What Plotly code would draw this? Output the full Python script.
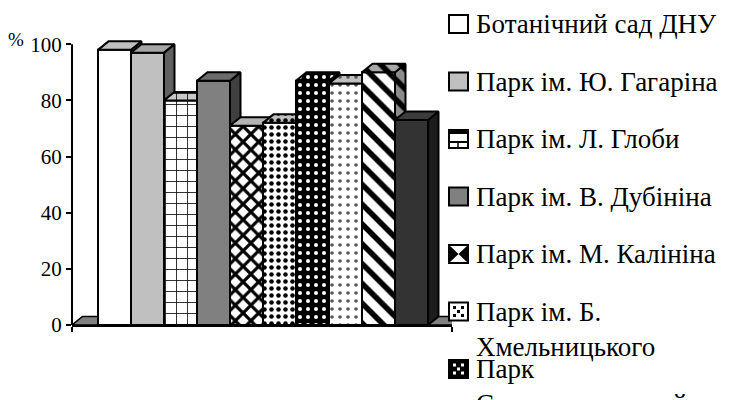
import plotly.graph_objects as go

# Share of healthy trees by park, %
parks = [
    "Ботанічний сад ДНУ",
    "Парк ім. Ю. Гагаріна",
    "Парк ім. Л. Глоби",
    "Парк ім. В. Дубініна",
    "Парк ім. М. Калініна",
    "Парк ім. Б.<br>Хмельницького",
    "Парк<br>Севастопольський",
]
values = [98, 97, 80, 87, 71, 72, 87, 86, 90, 73]
y_ticks = [0, 20, 40, 60, 80, 100]

SERIF = "Liberation Serif"

# Front-face styles: (bgcolor, pattern shape, fgcolor, size, solidity)
front_style = [
    ("#ffffff", "", None, None, None),
    ("#c0c0c0", "", None, None, None),
    ("#ffffff", "+", "#000000", 11, 0.14),
    ("#808080", "", None, None, None),
    ("#ffffff", "x", "#000000", 11, 0.5),
    ("#ffffff", ".", "#000000", 7, 0.33),
    ("#000000", ".", "#ffffff", 8, 0.2),
    ("#ffffff", ".", "#555555", 8, 0.16),
    ("#ffffff", "\\", "#000000", 14, 0.4),
    ("#333333", "", None, None, None),
]
top_style = [
    ("#c0c0c0", "", None),
    ("#a6a6a6", "", None),
    ("#c8c8c8", "+", "#000000"),
    ("#6b6b6b", "", None),
    ("#b4b4b4", "", None),
    ("#c0c0c0", ".", "#000000"),
    ("#000000", ".", "#ffffff"),
    ("#c0c0c0", ".", "#555555"),
    ("#a8a8a8", "\\", "#000000"),
    ("#3c3c3c", "", None),
]
side_color = ["#7a7a7a", "#606060", "#8a8a8a", "#404040", "#5a5a5a",
              "#707070", "#000000", "#7a7a7a", "#8c8c8c", "#1c1c1c"]

# Plot area geometry (pixels)
L, R, T, B = 72, 452, 33, 325
W_PX, H_PX = 742, 400
UNIT_PX = 33.0
x_lo = -0.5 - 26 / UNIT_PX
x_hi = x_lo + (R - L) / UNIT_PX
y_rng = [0, 104]
y_px = (B - T) / (y_rng[1] - y_rng[0])
dx = 10.5 / UNIT_PX          # depth offset along x (axis units)
dz = 8.5 / y_px              # depth offset along y (axis units)


def pattern(shape, fg, bg, size=None, solidity=None):
    if not shape:
        return dict(shape="", bgcolor=bg)
    p = dict(shape=shape, fgcolor=fg, bgcolor=bg, fillmode="replace")
    if size:
        p["size"] = size
    if solidity:
        p["solidity"] = solidity
    return p


fig = go.Figure()

# floor slab under the columns
fig.add_trace(go.Scatter(
    x=[x_lo, x_lo + dx, x_hi + dx, x_hi, x_lo],
    y=[0, dz, dz, 0, 0],
    fill="toself", fillcolor="#808080", mode="lines",
    line=dict(color="#000000", width=1.5),
    hoverinfo="skip", showlegend=False, xaxis="x", yaxis="y",
))

# each column gets its own overlaid axes pair so faces stack left to right
layout_axes = {}
for i, v in enumerate(values):
    xa, ya = f"x{i + 2}", f"y{i + 2}"
    bg, shp, fg, sz, sol = front_style[i]
    fig.add_trace(go.Bar(
        x=[i], y=[v], width=1,
        name=parks[i].replace("<br>", " ") if i < len(parks) else None,
        marker=dict(color=bg, pattern=pattern(shp, fg, bg, sz, sol),
                    line=dict(color="#000000", width=2)),
        hoverinfo="skip", showlegend=False, xaxis=xa, yaxis=ya,
    ))
    xl, xr = i - 0.5, i + 0.5
    # right side face
    fig.add_trace(go.Scatter(
        x=[xr, xr, xr + dx, xr + dx, xr],
        y=[0, v, v + dz, dz, 0],
        fill="toself", fillcolor=side_color[i], mode="lines",
        fillpattern=pattern(shp, "#000000", side_color[i], sz, sol)
        if shp in ("\\",) else None,
        line=dict(color="#000000", width=2),
        hoverinfo="skip", showlegend=False, xaxis=xa, yaxis=ya,
    ))
    # top face
    tbg, tshp, tfg = top_style[i]
    fig.add_trace(go.Scatter(
        x=[xl, xr, xr + dx, xl + dx, xl],
        y=[v, v, v + dz, v + dz, v],
        fill="toself", fillcolor=tbg, mode="lines",
        fillpattern=pattern(tshp, tfg, tbg, sz, sol) if tshp else None,
        line=dict(color="#000000", width=2),
        hoverinfo="skip", showlegend=False, xaxis=xa, yaxis=ya,
    ))
    layout_axes[f"xaxis{i + 2}"] = dict(overlaying="x", range=[x_lo, x_hi],
                                        visible=False, fixedrange=True)
    layout_axes[f"yaxis{i + 2}"] = dict(overlaying="y", range=y_rng,
                                        visible=False, fixedrange=True)


def px_x(px):
    return (px - L) / (R - L)


def px_y(py):
    return (B - py) / (B - T)


shapes = [
    # value axis line from 0 to 100
    dict(type="line", xref="paper", yref="y", x0=0, x1=0,
         y0=-1, y1=y_ticks[-1], line=dict(color="#000000", width=2)),
]
annotations = [
    dict(text="%", xref="paper", yref="paper", x=px_x(16), y=px_y(40),
         xanchor="center", yanchor="middle", showarrow=False,
         font=dict(family=SERIF, size=19, color="#000000")),
]

# legend (swatches + labels)
leg_cy = [24, 81.5, 139, 196.5, 254, 311.5, 369]
SW_X0, SW_X1 = 449, 468
for k, cy in enumerate(leg_cy):
    y0, y1 = cy - 9, cy + 9
    base = {0: "#ffffff", 1: "#c0c0c0", 2: "#ffffff", 3: "#808080",
            4: "#ffffff", 5: "#ffffff", 6: "#000000"}[k]
    shapes.append(dict(type="rect", xref="paper", yref="paper",
                       x0=px_x(SW_X0), x1=px_x(SW_X1), y0=px_y(y1), y1=px_y(y0),
                       fillcolor=base, line=dict(color="#000000", width=2)))
    if k == 2:
        shapes.append(dict(type="rect", xref="paper", yref="paper",
                           x0=px_x(SW_X0), x1=px_x(SW_X1), y0=px_y(y0 + 4), y1=px_y(y0),
                           fillcolor="#000000", line=dict(width=0)))
        shapes.append(dict(type="line", xref="paper", yref="paper",
                           x0=px_x(SW_X0), x1=px_x(SW_X1), y0=px_y(cy + 3), y1=px_y(cy + 3),
                           line=dict(color="#000000", width=2)))
        shapes.append(dict(type="line", xref="paper", yref="paper",
                           x0=px_x(458), x1=px_x(458), y0=px_y(y1), y1=px_y(cy + 3),
                           line=dict(color="#000000", width=1.5)))
    if k == 4:
        for sx in (SW_X0, SW_X1):
            tip = 458.5
            shapes.append(dict(
                type="path", xref="paper", yref="paper",
                path=f"M {px_x(sx)},{px_y(y0)} L {px_x(tip)},{px_y(cy)} "
                     f"L {px_x(sx)},{px_y(y1)} Z",
                fillcolor="#000000", line=dict(width=0)))
    if k in (5, 6):
        dot = "#000000" if k == 5 else "#ffffff"
        for ddx, ddy in ((-4, -4), (4, -4), (-4, 4), (4, 4), (0, 0)):
            cx = 458.5 + ddx
            shapes.append(dict(type="rect", xref="paper", yref="paper",
                               x0=px_x(cx - 1.5), x1=px_x(cx + 1.5),
                               y0=px_y(cy + ddy + 1.5), y1=px_y(cy + ddy - 1.5),
                               fillcolor=dot, line=dict(width=0)))
    lines = parks[k].split("<br>")
    for j, line in enumerate(lines):
        annotations.append(dict(
            text=line, xref="paper", yref="paper",
            x=px_x(474), y=px_y(cy + 35 * j),
            xanchor="left", yanchor="middle", showarrow=False,
            font=dict(family=SERIF, size=27, color="#000000")))

fig.update_layout(
    width=W_PX, height=H_PX,
    margin=dict(l=L, r=W_PX - R, t=T, b=H_PX - B, autoexpand=False),
    paper_bgcolor="#ffffff", plot_bgcolor="rgba(0,0,0,0)",
    barmode="overlay", showlegend=False,
    font=dict(family=SERIF, color="#000000"),
    xaxis=dict(range=[x_lo, x_hi], showgrid=False, zeroline=False,
               showline=True, linecolor="#000000", linewidth=2,
               tickvals=[x_lo + 0.001, x_hi - 0.001], ticktext=["", ""],
               ticks="outside", ticklen=5, tickwidth=1.5, tickcolor="#000000",
               fixedrange=True),
    yaxis=dict(range=y_rng, showgrid=False, zeroline=False, showline=False,
               tickvals=y_ticks, ticks="outside", ticklen=5, tickwidth=1.5,
               tickcolor="#000000",
               tickfont=dict(family=SERIF, size=21, color="#000000"),
               fixedrange=True),
    shapes=shapes, annotations=annotations,
    **layout_axes,
)

fig.write_html("out.html")
